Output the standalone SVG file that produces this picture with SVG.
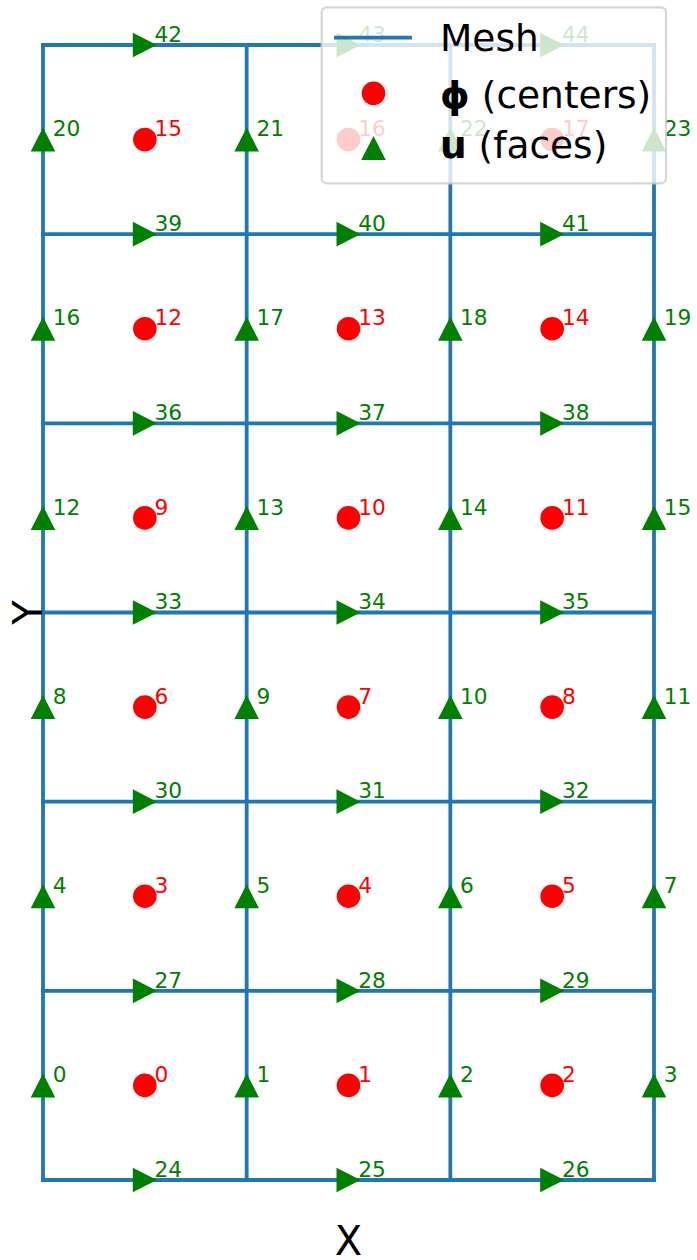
<svg xmlns="http://www.w3.org/2000/svg" xmlns:xlink="http://www.w3.org/1999/xlink" width="697" height="1260" viewBox="0 0 697 1260">
<style>
text{font-family:"DejaVu Sans","Liberation Sans",sans-serif}
.g{fill:#008000;font-size:21.7px}
.r{fill:#ff0000;font-size:21.7px}
.mesh line{stroke:#1f77b4;stroke-width:3.8;stroke-linecap:square}
.leg{font-size:37.5px;fill:#000}
.ax{font-size:40px;fill:#000}
</style>
<defs>
<path id="tu" d="M0,-12 L12.3,12 L-12.3,12 Z" fill="#008000"/>
<path id="tr" d="M12,0 L-12,12.3 L-12,-12.3 Z" fill="#008000"/>
<circle id="dot" r="11.8" fill="#ff0000"/>
</defs>
<rect width="697" height="1260" fill="#fff"/>
<g id="connectors" class="mesh">
<line x1="43" y1="45" x2="43" y2="1180"/>
<line x1="246.67" y1="45" x2="246.67" y2="1180"/>
<line x1="450.33" y1="45" x2="450.33" y2="1180"/>
<line x1="654" y1="45" x2="654" y2="1180"/>
<line x1="43" y1="1180" x2="654" y2="1180"/>
<line x1="43" y1="990.83" x2="654" y2="990.83"/>
<line x1="43" y1="801.67" x2="654" y2="801.67"/>
<line x1="43" y1="612.5" x2="654" y2="612.5"/>
<line x1="43" y1="423.33" x2="654" y2="423.33"/>
<line x1="43" y1="234.17" x2="654" y2="234.17"/>
<line x1="43" y1="45" x2="654" y2="45"/>
</g>
<g id="cells">
<g id="phi-0"><use xlink:href="#dot" x="144.83" y="1085.42"/><text class="r" x="154.5" y="1082.1">0</text></g>
<g id="phi-1"><use xlink:href="#dot" x="348.5" y="1085.42"/><text class="r" x="358.2" y="1082.1">1</text></g>
<g id="phi-2"><use xlink:href="#dot" x="552.17" y="1085.42"/><text class="r" x="561.9" y="1082.1">2</text></g>
<g id="phi-3"><use xlink:href="#dot" x="144.83" y="896.25"/><text class="r" x="154.5" y="892.95">3</text></g>
<g id="phi-4"><use xlink:href="#dot" x="348.5" y="896.25"/><text class="r" x="358.2" y="892.95">4</text></g>
<g id="phi-5"><use xlink:href="#dot" x="552.17" y="896.25"/><text class="r" x="561.9" y="892.95">5</text></g>
<g id="phi-6"><use xlink:href="#dot" x="144.83" y="707.08"/><text class="r" x="154.5" y="703.78">6</text></g>
<g id="phi-7"><use xlink:href="#dot" x="348.5" y="707.08"/><text class="r" x="358.2" y="703.78">7</text></g>
<g id="phi-8"><use xlink:href="#dot" x="552.17" y="707.08"/><text class="r" x="561.9" y="703.78">8</text></g>
<g id="phi-9"><use xlink:href="#dot" x="144.83" y="517.92"/><text class="r" x="154.5" y="514.62">9</text></g>
<g id="phi-10"><use xlink:href="#dot" x="348.5" y="517.92"/><text class="r" x="358.2" y="514.62">10</text></g>
<g id="phi-11"><use xlink:href="#dot" x="552.17" y="517.92"/><text class="r" x="561.9" y="514.62">11</text></g>
<g id="phi-12"><use xlink:href="#dot" x="144.83" y="328.75"/><text class="r" x="154.5" y="325.45">12</text></g>
<g id="phi-13"><use xlink:href="#dot" x="348.5" y="328.75"/><text class="r" x="358.2" y="325.45">13</text></g>
<g id="phi-14"><use xlink:href="#dot" x="552.17" y="328.75"/><text class="r" x="561.9" y="325.45">14</text></g>
<g id="phi-15"><use xlink:href="#dot" x="144.83" y="139.58"/><text class="r" x="154.5" y="136.28">15</text></g>
<g id="phi-16"><use xlink:href="#dot" x="348.5" y="139.58"/><text class="r" x="358.2" y="136.28">16</text></g>
<g id="phi-17"><use xlink:href="#dot" x="552.17" y="139.58"/><text class="r" x="561.9" y="136.28">17</text></g>
</g>
<g id="vfaces">
<g id="u-0"><use xlink:href="#tu" x="43" y="1085.42"/><text class="g" x="52.7" y="1082.1">0</text></g>
<g id="u-1"><use xlink:href="#tu" x="246.67" y="1085.42"/><text class="g" x="256.4" y="1082.1">1</text></g>
<g id="u-2"><use xlink:href="#tu" x="450.33" y="1085.42"/><text class="g" x="460" y="1082.1">2</text></g>
<g id="u-3"><use xlink:href="#tu" x="654" y="1085.42"/><text class="g" x="663.7" y="1082.1">3</text></g>
<g id="u-4"><use xlink:href="#tu" x="43" y="896.25"/><text class="g" x="52.7" y="892.95">4</text></g>
<g id="u-5"><use xlink:href="#tu" x="246.67" y="896.25"/><text class="g" x="256.4" y="892.95">5</text></g>
<g id="u-6"><use xlink:href="#tu" x="450.33" y="896.25"/><text class="g" x="460" y="892.95">6</text></g>
<g id="u-7"><use xlink:href="#tu" x="654" y="896.25"/><text class="g" x="663.7" y="892.95">7</text></g>
<g id="u-8"><use xlink:href="#tu" x="43" y="707.08"/><text class="g" x="52.7" y="703.78">8</text></g>
<g id="u-9"><use xlink:href="#tu" x="246.67" y="707.08"/><text class="g" x="256.4" y="703.78">9</text></g>
<g id="u-10"><use xlink:href="#tu" x="450.33" y="707.08"/><text class="g" x="460" y="703.78">10</text></g>
<g id="u-11"><use xlink:href="#tu" x="654" y="707.08"/><text class="g" x="663.7" y="703.78">11</text></g>
<g id="u-12"><use xlink:href="#tu" x="43" y="517.92"/><text class="g" x="52.7" y="514.62">12</text></g>
<g id="u-13"><use xlink:href="#tu" x="246.67" y="517.92"/><text class="g" x="256.4" y="514.62">13</text></g>
<g id="u-14"><use xlink:href="#tu" x="450.33" y="517.92"/><text class="g" x="460" y="514.62">14</text></g>
<g id="u-15"><use xlink:href="#tu" x="654" y="517.92"/><text class="g" x="663.7" y="514.62">15</text></g>
<g id="u-16"><use xlink:href="#tu" x="43" y="328.75"/><text class="g" x="52.7" y="325.45">16</text></g>
<g id="u-17"><use xlink:href="#tu" x="246.67" y="328.75"/><text class="g" x="256.4" y="325.45">17</text></g>
<g id="u-18"><use xlink:href="#tu" x="450.33" y="328.75"/><text class="g" x="460" y="325.45">18</text></g>
<g id="u-19"><use xlink:href="#tu" x="654" y="328.75"/><text class="g" x="663.7" y="325.45">19</text></g>
<g id="u-20"><use xlink:href="#tu" x="43" y="139.58"/><text class="g" x="52.7" y="136.28">20</text></g>
<g id="u-21"><use xlink:href="#tu" x="246.67" y="139.58"/><text class="g" x="256.4" y="136.28">21</text></g>
<g id="u-22"><use xlink:href="#tu" x="450.33" y="139.58"/><text class="g" x="460" y="136.28">22</text></g>
<g id="u-23"><use xlink:href="#tu" x="654" y="139.58"/><text class="g" x="663.7" y="136.28">23</text></g>
</g>
<g id="hfaces">
<g id="u-24"><use xlink:href="#tr" x="144.83" y="1180"/><text class="g" x="154.5" y="1176.7">24</text></g>
<g id="u-25"><use xlink:href="#tr" x="348.5" y="1180"/><text class="g" x="358.2" y="1176.7">25</text></g>
<g id="u-26"><use xlink:href="#tr" x="552.17" y="1180"/><text class="g" x="561.9" y="1176.7">26</text></g>
<g id="u-27"><use xlink:href="#tr" x="144.83" y="990.83"/><text class="g" x="154.5" y="987.53">27</text></g>
<g id="u-28"><use xlink:href="#tr" x="348.5" y="990.83"/><text class="g" x="358.2" y="987.53">28</text></g>
<g id="u-29"><use xlink:href="#tr" x="552.17" y="990.83"/><text class="g" x="561.9" y="987.53">29</text></g>
<g id="u-30"><use xlink:href="#tr" x="144.83" y="801.67"/><text class="g" x="154.5" y="798.37">30</text></g>
<g id="u-31"><use xlink:href="#tr" x="348.5" y="801.67"/><text class="g" x="358.2" y="798.37">31</text></g>
<g id="u-32"><use xlink:href="#tr" x="552.17" y="801.67"/><text class="g" x="561.9" y="798.37">32</text></g>
<g id="u-33"><use xlink:href="#tr" x="144.83" y="612.5"/><text class="g" x="154.5" y="609.2">33</text></g>
<g id="u-34"><use xlink:href="#tr" x="348.5" y="612.5"/><text class="g" x="358.2" y="609.2">34</text></g>
<g id="u-35"><use xlink:href="#tr" x="552.17" y="612.5"/><text class="g" x="561.9" y="609.2">35</text></g>
<g id="u-36"><use xlink:href="#tr" x="144.83" y="423.33"/><text class="g" x="154.5" y="420.03">36</text></g>
<g id="u-37"><use xlink:href="#tr" x="348.5" y="423.33"/><text class="g" x="358.2" y="420.03">37</text></g>
<g id="u-38"><use xlink:href="#tr" x="552.17" y="423.33"/><text class="g" x="561.9" y="420.03">38</text></g>
<g id="u-39"><use xlink:href="#tr" x="144.83" y="234.17"/><text class="g" x="154.5" y="230.87">39</text></g>
<g id="u-40"><use xlink:href="#tr" x="348.5" y="234.17"/><text class="g" x="358.2" y="230.87">40</text></g>
<g id="u-41"><use xlink:href="#tr" x="552.17" y="234.17"/><text class="g" x="561.9" y="230.87">41</text></g>
<g id="u-42"><use xlink:href="#tr" x="144.83" y="45"/><text class="g" x="154.5" y="41.7">42</text></g>
<g id="u-43"><use xlink:href="#tr" x="348.5" y="45"/><text class="g" x="358.2" y="41.7">43</text></g>
<g id="u-44"><use xlink:href="#tr" x="552.17" y="45"/><text class="g" x="561.9" y="41.7">44</text></g>
</g>
<g id="axis-labels">
<text class="ax" x="348.5" y="1255" text-anchor="middle">X</text>
<text class="ax" transform="translate(42,612.5) rotate(-90)" text-anchor="middle">Y</text>
</g>
<g id="legend">
<rect x="321.7" y="7.3" width="344.3" height="176" rx="5" fill="#fff" fill-opacity="0.8" stroke="#cccccc" stroke-opacity="0.8" stroke-width="2.2"/>
<line x1="334" y1="37.7" x2="412" y2="37.7" stroke="#1f77b4" stroke-width="3.8"/>
<use xlink:href="#dot" x="373.5" y="93.3"/>
<use xlink:href="#tu" x="373.5" y="148"/>
<text class="leg" x="440" y="50.7">Mesh</text>
<text class="leg" x="440" y="108.3"><tspan font-weight="bold">ϕ</tspan> (centers)</text>
<text class="leg" x="440" y="158.3"><tspan font-weight="bold">u</tspan> (faces)</text>
</g>
</svg>
